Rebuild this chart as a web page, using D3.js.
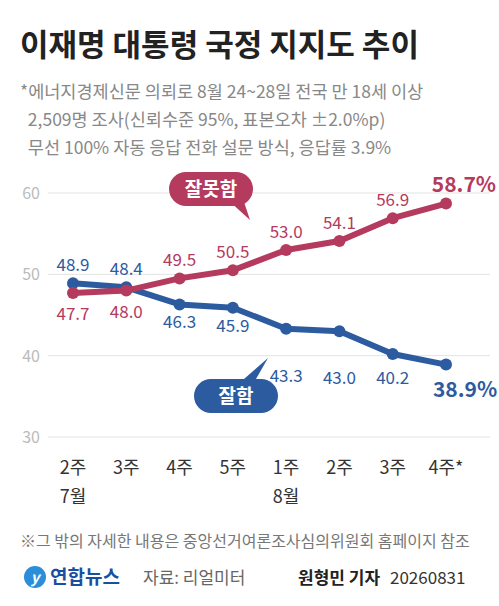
<!DOCTYPE html>
<html><head><meta charset="utf-8">
<script src="https://cdn.jsdelivr.net/npm/d3@7"></script>
<style>body{margin:0;background:#fff}text{font-family:"Noto Sans CJK KR","Noto Sans",sans-serif}</style>
</head><body><svg id="c" width="499" height="606"></svg>
<script>
const weeks = ["2주", "3주", "4주", "5주", "1주", "2주", "3주", "4주*"];
const months = ["7월", "", "", "", "8월", "", "", ""];
const bad = [47.7, 48.0, 49.5, 50.5, 53.0, 54.1, 56.9, 58.7];
const good = [48.9, 48.4, 46.3, 45.9, 43.3, 43.0, 40.2, 38.9];
const yTicks = [30, 40, 50, 60];

const RED = "#b43a5e", BLUE = "#2c5b9f";
const svg = d3.select("#c");
const x = d3.scalePoint().domain(d3.range(8)).range([73, 446]);
const y = d3.scaleLinear().domain([30, 60]).range([437, 193]);

svg.append("text").attr("x", 20).attr("y", 56).attr("font-size", 31).attr("font-weight", 700)
  .attr("fill", "#222").text("이재명 대통령 국정 지지도 추이");
const sub = ["*에너지경제신문 의뢰로 8월 24~28일 전국 만 18세 이상",
  "  2,509명 조사(신뢰수준 95%, 표본오차 ±2.0%p)",
  "  무선 100% 자동 응답 전화 설문 방식, 응답률 3.9%"];
sub.forEach((s, i) => svg.append("text").attr("x", 20).attr("y", 98 + i * 28)
  .attr("font-size", 17.5).attr("fill", "#888").attr("xml:space", "preserve").text(s));

yTicks.forEach(t => {
  svg.append("line").attr("x1", 48).attr("x2", 490).attr("y1", y(t)).attr("y2", y(t))
    .attr("stroke", "#e3e3e3").attr("stroke-width", 1);
  svg.append("text").attr("x", 40).attr("y", y(t) + 6).attr("text-anchor", "end")
    .attr("font-size", 16).attr("fill", "#bbb").text(t);
});

weeks.forEach((w, i) => {
  svg.append("text").attr("x", x(i)).attr("y", 474).attr("text-anchor", "middle")
    .attr("font-size", 18).attr("fill", "#333").text(w);
  if (months[i]) svg.append("text").attr("x", x(i)).attr("y", 503).attr("text-anchor", "middle")
    .attr("font-size", 18).attr("fill", "#333").text(months[i]);
});

const line = d3.line().x((d, i) => x(i)).y(d => y(d));
function series(data, col) {
  svg.append("path").datum(data).attr("d", line).attr("fill", "none")
    .attr("stroke", col).attr("stroke-width", 6).attr("stroke-linejoin", "round");
  svg.selectAll(null).data(data).join("circle").attr("cx", (d, i) => x(i)).attr("cy", d => y(d))
    .attr("r", 6).attr("fill", col);
}
series(good, BLUE);
series(bad, RED);

bad.forEach((v, i) => {
  const above = i >= 2;
  const last = i === 7;
  svg.append("text").attr("x", last ? 496 : x(i)).attr("y", above ? y(v) - 12 : y(v) + 27)
    .attr("text-anchor", last ? "end" : "middle").attr("font-size", last ? 21 : 17).attr("font-weight", last ? 700 : 400)
    .attr("fill", RED).text(last ? v.toFixed(1) + "%" : v.toFixed(1));
});
const goodOff = [0, 0, 24, 24, 53, 53, 30, 32];
good.forEach((v, i) => {
  const above = i < 2;
  const last = i === 7;
  svg.append("text").attr("x", last ? 465 : x(i)).attr("y", above ? y(v) - 12 : y(v) + goodOff[i])
    .attr("text-anchor", "middle").attr("font-size", last ? 21 : 17).attr("font-weight", last ? 700 : 400)
    .attr("fill", BLUE).text(last ? v.toFixed(1) + "%" : v.toFixed(1));
});

function callout(cx, cy, txt, col, ptr) {
  const g = svg.append("g");
  g.append("path").attr("d", ptr).attr("fill", col);
  g.append("rect").attr("x", cx - 42).attr("y", cy - 17).attr("width", 84).attr("height", 34)
    .attr("rx", 17).attr("fill", col);
  g.append("text").attr("x", cx).attr("y", cy + 7).attr("text-anchor", "middle")
    .attr("font-size", 19).attr("font-weight", 700).attr("fill", "#fff").text(txt);
}
callout(211, 189, "잘못함", RED, "M228,200 L250,220 L242,196 Z");
callout(236, 396, "잘함", BLUE, "M252,386 L268,358 L236,386 Z");

svg.append("text").attr("x", 20).attr("y", 547).attr("font-size", 16).attr("fill", "#777")
  .text("※그 밖의 자세한 내용은 중앙선거여론조사심의위원회 홈페이지 참조");
svg.append("circle").attr("cx", 35).attr("cy", 577).attr("r", 11).attr("fill", "#2a8fd8");
svg.append("text").attr("x", 35).attr("y", 583).attr("text-anchor", "middle").attr("font-size", 15)
  .attr("font-weight", 700).attr("fill", "#fff").attr("font-style", "italic").text("y");
svg.append("text").attr("x", 50).attr("y", 584).attr("font-size", 19).attr("font-weight", 700)
  .attr("fill", "#1a4fa0").text("연합뉴스");
svg.append("text").attr("x", 143).attr("y", 584).attr("font-size", 17).attr("fill", "#666").text("자료: 리얼미터");
svg.append("text").attr("x", 298).attr("y", 584).attr("font-size", 17).attr("font-weight", 700)
  .attr("fill", "#222").text("원형민 기자");
svg.append("text").attr("x", 390).attr("y", 584).attr("font-size", 17).attr("fill", "#333").text("20260831");
</script></body></html>
